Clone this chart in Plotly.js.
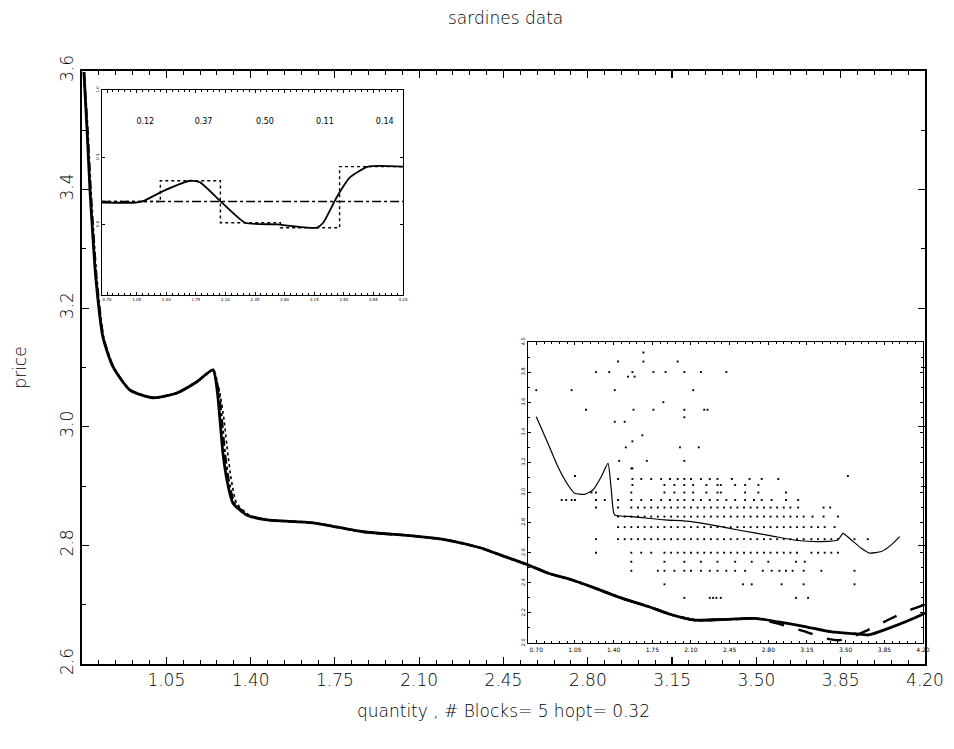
<!DOCTYPE html>
<html>
<head>
<meta charset="utf-8">
<script src="https://cdn.plot.ly/plotly-3.0.1.min.js"></script>
<style>html,body{margin:0;padding:0;background:#fff;}#chart{width:954px;height:749px;}</style>
</head>
<body>
<div id="chart"></div>
<script>
// ---------- main chart: fitted curves ----------
const mainQty = [0.708, 0.721, 0.733, 0.746, 0.758, 0.787, 0.829, 0.899, 0.995, 1.094, 1.177, 1.244, 1.261, 1.273, 1.285, 1.302, 1.327, 1.385, 1.468, 1.659, 1.867, 2.074, 2.216, 2.353, 2.456, 2.553, 2.636, 2.733, 2.830, 2.941, 3.051, 3.148, 3.245, 3.356, 3.494, 3.591, 3.702, 3.813, 3.910, 3.965, 4.048, 4.186, 4.20];
const mainFit = [3.598, 3.50, 3.40, 3.315, 3.248, 3.151, 3.101, 3.062, 3.049, 3.057, 3.076, 3.096, 3.062, 3.011, 2.956, 2.910, 2.871, 2.851, 2.843, 2.838, 2.823, 2.816, 2.809, 2.796, 2.781, 2.767, 2.753, 2.742, 2.728, 2.711, 2.697, 2.683, 2.674, 2.675, 2.677, 2.671, 2.663, 2.654, 2.651, 2.649, 2.660, 2.683, 2.686];
const dashDotQty = [0.708, 0.723, 0.736, 0.749, 0.761, 0.789, 0.830, 0.899, 0.995, 1.094, 1.177, 1.244, 1.266, 1.281, 1.293, 1.309, 1.333, 1.390, 1.468, 1.659, 1.867, 2.074, 2.216, 2.353, 2.456, 2.553, 2.636, 2.733, 2.830, 2.941, 3.051, 3.148, 3.245, 3.356, 3.494];
const dashDotFit = [3.598, 3.50, 3.40, 3.315, 3.248, 3.151, 3.101, 3.062, 3.049, 3.057, 3.076, 3.096, 3.062, 3.011, 2.956, 2.910, 2.871, 2.851, 2.843, 2.838, 2.823, 2.816, 2.809, 2.796, 2.781, 2.767, 2.753, 2.742, 2.728, 2.711, 2.697, 2.683, 2.674, 2.675, 2.677];
const dottedQty = [1.244, 1.270, 1.290, 1.305, 1.320, 1.342, 1.395, 1.468];
const dottedFit = [3.096, 3.062, 3.011, 2.956, 2.910, 2.871, 2.851, 2.843];
const dashQty = [2.830, 2.941, 3.051, 3.148, 3.245, 3.356, 3.494, 3.590, 3.700, 3.780, 3.840, 3.880, 3.950, 4.050, 4.130, 4.200];
const dashFit = [2.728, 2.711, 2.697, 2.683, 2.674, 2.675, 2.677, 2.668, 2.655, 2.644, 2.640, 2.643, 2.655, 2.675, 2.690, 2.700];

const mainTickVals = [1.05, 1.40, 1.75, 2.10, 2.45, 2.80, 3.15, 3.50, 3.85, 4.20];
const mainTickText = ["1.05", "1.40", "1.75", "2.10", "2.45", "2.80", "3.15", "3.50", "3.85", "4.20"];
const priceTickVals = [2.6, 2.8, 3.0, 3.2, 3.4, 3.6];
const priceTickText = ["2.6", "2.8", "3.0", "3.2", "3.4", "3.6"];

// ---------- top-left inset: block coefficients ----------
const blockCurveQty = [0.641, 1.034, 1.133, 1.369, 1.683, 1.801, 2.037, 2.332, 2.706, 3.178, 3.256, 3.414, 3.571, 3.787, 4.20];
const blockCurveVal = [0.1625, 0.1625, 0.175, 0.25, 0.325, 0.3125, 0.175, 0.0125, 0.0, -0.025, 0.0125, 0.2, 0.35, 0.43, 0.43];
const blockEdges = [0.641, 1.33, 2.04, 2.75, 3.45, 4.20];
const blockLevels = [0.17, 0.325, 0.0125, -0.025, 0.43];
const baseLevel = 0.17;
const blockLabelQty = [1.152, 1.841, 2.568, 3.276, 3.984];
const blockLabels = ["0.12", "0.37", "0.50", "0.11", "0.14"];
const blockLabelLevel = 0.7625;
const insetTickVals = [0.70, 1.05, 1.40, 1.75, 2.10, 2.45, 2.80, 3.15, 3.50, 3.85, 4.20];
const insetTickText = ["0.70", "1.05", "1.40", "1.75", "2.10", "2.45", "2.80", "3.15", "3.50", "3.85", "4.20"];
const inset1YTickVals = [0.0, 0.5, 1.0];
const inset1YTickText = ["0.0", "0.5", "1.0"];

// ---------- bottom-right inset: raw data + fit ----------
const insetFitQty = [0.70, 0.806, 0.896, 0.987, 1.047, 1.137, 1.213, 1.288, 1.349, 1.379, 1.409, 1.56, 1.711, 1.862, 2.103, 2.284, 2.525, 2.827, 3.068, 3.280, 3.430, 3.476, 3.551, 3.642, 3.717, 3.823, 3.913, 3.989];
const insetFitPrice = [3.503, 3.326, 3.171, 3.050, 2.995, 2.988, 3.017, 3.105, 3.193, 3.017, 2.851, 2.840, 2.829, 2.818, 2.807, 2.785, 2.751, 2.712, 2.681, 2.674, 2.685, 2.729, 2.685, 2.630, 2.597, 2.608, 2.652, 2.707];
const inset2YTickVals = [2.0, 2.2, 2.4, 2.6, 2.8, 3.0, 3.2, 3.4, 3.6, 3.8, 4.0];
const inset2YTickText = ["2.0", "2.2", "2.4", "2.6", "2.8", "3.0", "3.2", "3.4", "3.6", "3.8", "4.0"];

const priceRows = [3.93, 3.87, 3.80, 3.77, 3.68, 3.60, 3.55, 3.50, 3.47, 3.38, 3.34, 3.30, 3.21, 3.16, 3.11, 3.09, 3.05, 3.00, 2.95, 2.90, 2.84, 2.77, 2.69, 2.60, 2.54, 2.48, 2.39, 2.30];
const qtyRows = [
  [1.67],
  [1.44, 1.67, 1.98],
  [1.24, 1.36, 1.57, 1.76, 1.87, 2.04, 2.19, 2.42],
  [1.53, 1.59],
  [0.70, 1.02, 1.41, 2.12],
  [1.85],
  [1.15, 1.58, 1.76, 2.04, 2.22, 2.25],
  [2.04],
  [1.41, 1.50],
  [1.66],
  [1.57],
  [1.51, 2.00, 2.17],
  [1.45, 1.70, 2.04],
  [1.56, 1.57],
  [1.05, 3.52],
  [1.44, 1.57, 1.65, 1.74, 1.83, 1.91, 1.98, 2.04, 2.10, 2.19, 2.27, 2.34, 2.47, 2.63, 2.74, 2.89],
  [1.57, 1.86, 1.95, 2.04, 2.12, 2.24, 2.34, 2.37, 2.50, 2.59, 2.71],
  [1.20, 1.24, 1.56, 1.86, 1.95, 2.04, 2.12, 2.24, 2.34, 2.37, 2.59, 2.71, 2.96],
  [0.93, 0.97, 1.02, 1.05, 1.24, 1.32, 1.44, 1.56, 1.65, 1.74, 1.83, 1.91, 1.98, 2.04, 2.12, 2.19, 2.27, 2.34, 2.42, 2.50, 2.59, 2.67, 2.74, 2.83, 2.96, 3.07],
  [1.24, 1.44, 1.56, 1.62, 1.68, 1.74, 1.80, 1.86, 1.92, 1.98, 2.04, 2.10, 2.16, 2.22, 2.28, 2.34, 2.40, 2.46, 2.52, 2.58, 2.64, 2.70, 2.76, 2.82, 2.88, 2.94, 3.00, 3.07, 3.30, 3.36],
  [1.44, 1.50, 1.56, 1.62, 1.68, 1.74, 1.80, 1.86, 1.92, 1.98, 2.04, 2.10, 2.16, 2.22, 2.28, 2.34, 2.40, 2.46, 2.52, 2.58, 2.64, 2.70, 2.76, 2.82, 2.88, 2.94, 3.00, 3.06, 3.12, 3.20, 3.30, 3.43],
  [1.44, 1.50, 1.56, 1.62, 1.68, 1.74, 1.80, 1.86, 1.92, 1.98, 2.04, 2.10, 2.16, 2.22, 2.28, 2.34, 2.40, 2.46, 2.52, 2.58, 2.64, 2.70, 2.76, 2.82, 2.88, 2.94, 3.00, 3.06, 3.12, 3.19, 3.25, 3.31, 3.40],
  [1.24, 1.44, 1.50, 1.56, 1.62, 1.68, 1.74, 1.80, 1.86, 1.92, 1.98, 2.04, 2.10, 2.16, 2.22, 2.28, 2.34, 2.40, 2.46, 2.52, 2.58, 2.64, 2.70, 2.76, 2.82, 2.88, 2.94, 3.00, 3.06, 3.12, 3.19, 3.25, 3.31, 3.37, 3.43, 3.58, 3.70],
  [1.24, 1.56, 1.65, 1.74, 1.86, 1.92, 1.98, 2.04, 2.10, 2.16, 2.22, 2.28, 2.34, 2.40, 2.46, 2.52, 2.58, 2.64, 2.70, 2.76, 2.82, 2.88, 2.94, 3.00, 3.06, 3.19, 3.25, 3.31, 3.37, 3.43],
  [1.56, 1.86, 2.04, 2.19, 2.34, 2.50, 2.65, 2.80, 3.05, 3.13],
  [1.56, 1.80, 1.86, 1.95, 2.04, 2.10, 2.19, 2.27, 2.34, 2.42, 2.50, 2.59, 2.75, 2.83, 2.90, 2.96, 3.02, 3.12, 3.28, 3.58],
  [1.86, 2.57, 2.65, 2.92, 3.12, 3.58],
  [2.04, 2.27, 2.30, 2.33, 2.37, 3.05, 3.16]
];

const scatterQty = [];
const scatterPrice = [];
qtyRows.forEach((row, i) => row.forEach(q => { scatterQty.push(q); scatterPrice.push(priceRows[i]); }));

// build step function for the dotted block line
const stepQty = [];
const stepVal = [];
blockLevels.forEach((lv, i) => { stepQty.push(blockEdges[i], blockEdges[i + 1]); stepVal.push(lv, lv); });

const FONT = "DejaVu Sans";
const ink = "#000000";

const traces = [
  {x: mainQty, y: mainFit, type: "scatter", mode: "lines", line: {color: ink, width: 2.8, shape: "spline", smoothing: 0.6}, xaxis: "x", yaxis: "y", hoverinfo: "skip"},
  {x: dashDotQty, y: dashDotFit, type: "scatter", mode: "lines", line: {color: ink, width: 2.4, dash: "dashdot", shape: "spline", smoothing: 0.6}, xaxis: "x", yaxis: "y", hoverinfo: "skip"},
  {x: dottedQty, y: dottedFit, type: "scatter", mode: "lines", line: {color: ink, width: 1.6, dash: "dot", shape: "spline", smoothing: 0.6}, xaxis: "x", yaxis: "y", hoverinfo: "skip"},
  {x: dashQty, y: dashFit, type: "scatter", mode: "lines", line: {color: ink, width: 2.4, dash: "longdash", shape: "spline", smoothing: 0.6}, xaxis: "x", yaxis: "y", hoverinfo: "skip"},
  // inset 1
  {x: [blockEdges[0], blockEdges[blockEdges.length - 1]], y: [baseLevel, baseLevel], type: "scatter", mode: "lines", line: {color: ink, width: 1.6, dash: "dashdot"}, xaxis: "x2", yaxis: "y2", hoverinfo: "skip"},
  {x: stepQty, y: stepVal, type: "scatter", mode: "lines", line: {color: ink, width: 1.4, dash: "dot"}, xaxis: "x2", yaxis: "y2", hoverinfo: "skip"},
  {x: blockCurveQty, y: blockCurveVal, type: "scatter", mode: "lines", line: {color: ink, width: 1.8, shape: "spline", smoothing: 0.5}, xaxis: "x2", yaxis: "y2", hoverinfo: "skip"},
  {x: blockLabelQty, y: blockLabelQty.map(() => blockLabelLevel), text: blockLabels, type: "scatter", mode: "text", textfont: {family: FONT, size: 8, color: ink}, xaxis: "x2", yaxis: "y2", hoverinfo: "skip"},
  // inset 2
  {x: scatterQty, y: scatterPrice, type: "scatter", mode: "markers", marker: {color: ink, size: 1.9, symbol: "square"}, xaxis: "x3", yaxis: "y3", hoverinfo: "skip"},
  {x: insetFitQty, y: insetFitPrice, type: "scatter", mode: "lines", line: {color: ink, width: 1.2, shape: "spline", smoothing: 0.5}, xaxis: "x3", yaxis: "y3", hoverinfo: "skip"}
];

const L = 82, R = 925, T = 71, B = 664, W = 954, H = 749;
const pw = R - L, ph = B - T;
const dx = (a, b) => [(a - L) / pw, (b - L) / pw];
const dy = (top, bot) => [(B - bot) / ph, (B - top) / ph];

const axisBase = {showline: true, linecolor: ink, mirror: "ticks", ticks: "inside", tickcolor: ink, showgrid: false, zeroline: false, fixedrange: true};
const bigFont = {family: FONT, size: 17, weight: 200, color: ink};

const layout = {
  width: W, height: H,
  margin: {l: L, r: W - R, t: T, b: H - B},
  paper_bgcolor: "#ffffff", plot_bgcolor: "rgba(0,0,0,0)",
  showlegend: false,
  font: {family: FONT, color: ink},
  title: {text: "sardines data", font: bigFont, x: 0.53, xanchor: "center", y: 1 - 18 / H, yref: "container", yanchor: "middle"},
  xaxis: Object.assign({}, axisBase, {
    domain: [0, 1], range: [0.70, 4.20], anchor: "y",
    tickvals: mainTickVals, ticktext: mainTickText, ticklen: 7, linewidth: 1.8, tickwidth: 1.2,
    tickfont: bigFont,
    minor: {dtick: 0.07, tick0: 0.70, ticks: "inside", ticklen: 4, tickcolor: ink, tickwidth: 1},
    title: {text: "quantity , # Blocks= 5 hopt= 0.32", font: bigFont, standoff: 16}
  }),
  yaxis: Object.assign({}, axisBase, {
    domain: [0, 1], range: [2.6, 3.6], anchor: "x",
    tickvals: priceTickVals, ticktext: priceTickText, tickangle: -90, ticklen: 7, linewidth: 1.8, tickwidth: 1.2,
    tickfont: bigFont,
    minor: {dtick: 0.1, tick0: 2.6, ticks: "inside", ticklen: 4, tickcolor: ink, tickwidth: 1},
    title: {text: "price", font: bigFont, standoff: 26}
  }),
  xaxis2: Object.assign({}, axisBase, {
    domain: dx(102, 403), range: [0.64, 4.20], anchor: "y2",
    tickvals: insetTickVals, ticktext: insetTickText, ticklen: 3, linewidth: 1.3,
    tickfont: {family: FONT, size: 4, color: ink},
    minor: {dtick: 0.07, tick0: 0.70, ticks: "inside", ticklen: 2, tickcolor: ink}
  }),
  yaxis2: Object.assign({}, axisBase, {
    domain: dy(90, 295), range: [-0.525, 1.0], anchor: "x2",
    tickvals: inset1YTickVals, ticktext: inset1YTickText, tickangle: -90, ticklen: 3, linewidth: 1.3,
    tickfont: {family: FONT, size: 4, color: ink}
  }),
  xaxis3: Object.assign({}, axisBase, {
    domain: dx(528, 923), range: [0.625, 4.20], anchor: "y3",
    tickvals: insetTickVals, ticktext: insetTickText, ticklen: 3, linewidth: 1.3,
    tickfont: {family: FONT, size: 6, color: ink},
    minor: {dtick: 0.07, tick0: 0.70, ticks: "inside", ticklen: 2, tickcolor: ink}
  }),
  yaxis3: Object.assign({}, axisBase, {
    domain: dy(342, 643), range: [2.0, 4.0], anchor: "x3",
    tickvals: inset2YTickVals, ticktext: inset2YTickText, tickangle: -90, ticklen: 3, linewidth: 1.3,
    tickfont: {family: FONT, size: 5, color: ink},
    minor: {dtick: 0.1, tick0: 2.0, ticks: "inside", ticklen: 2, tickcolor: ink}
  })
};

Plotly.newPlot("chart", traces, layout, {staticPlot: true, displayModeBar: false});
</script>
</body>
</html>
